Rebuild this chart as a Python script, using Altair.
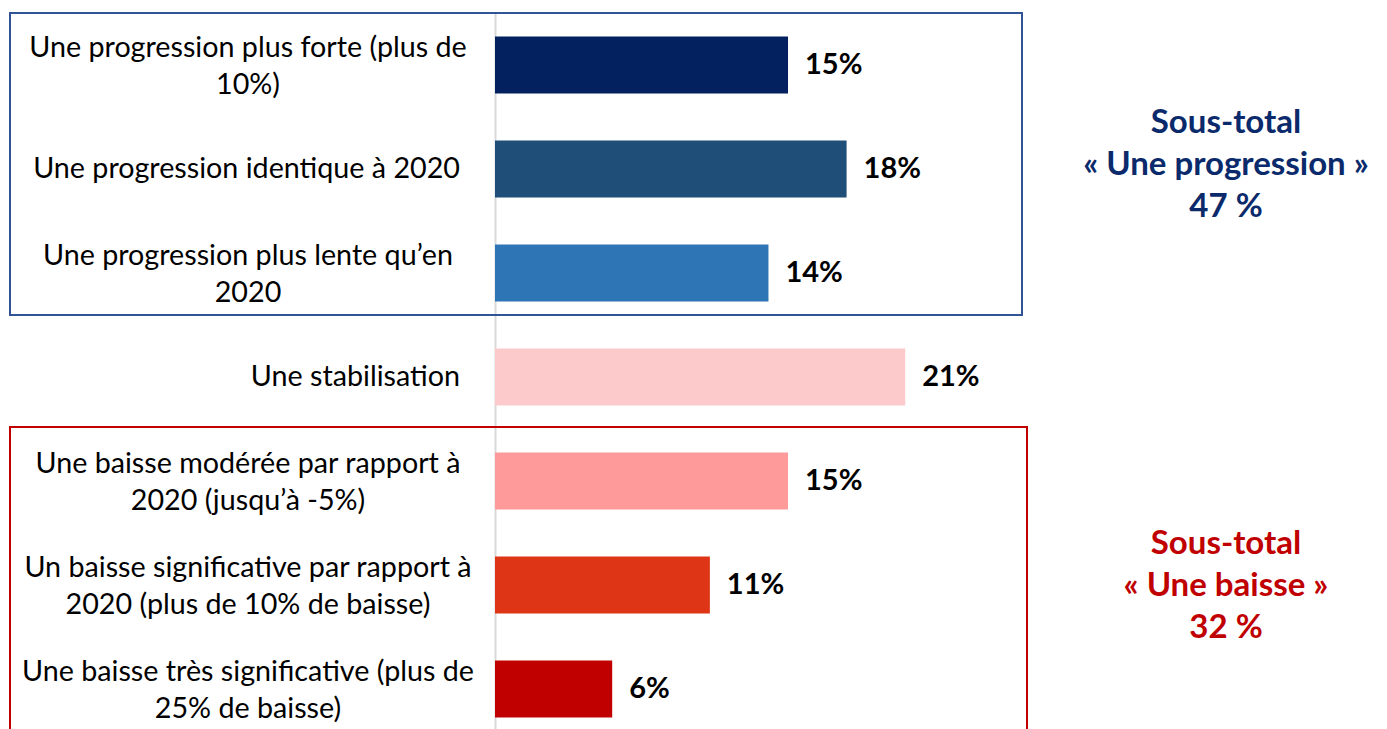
import altair as alt
import pandas as pd

categories = [
    "Une progression plus forte (plus de\n10%)",
    "Une progression identique à 2020",
    "Une progression plus lente qu’en\n2020",
    "Une stabilisation",
    "Une baisse modérée par rapport à\n2020 (jusqu’à -5%)",
    "Un baisse significative par rapport à\n2020 (plus de 10% de baisse)",
    "Une baisse très significative (plus de\n25% de baisse)",
]
values = [15, 18, 14, 21, 15, 11, 6]
colors = ["#03215f", "#1f4e79", "#2e75b6", "#fdcacb", "#fe9a9a", "#dd3516", "#c00000"]

subtotal_anchor = [categories[1], categories[5]]
subtotal_text = ["Sous-total\n« Une progression »\n47 %", "Sous-total\n« Une baisse »\n32 %"]
subtotal_colors = ["#0b2a6b", "#c00000"]

FONT = "Lato"

df = pd.DataFrame({"cat": categories, "value": values, "color": colors})
df["label"] = [f"{v}%" for v in values]
df["multi"] = ["\n" in c for c in categories]
sub = pd.DataFrame({"cat": subtotal_anchor, "text": subtotal_text, "color": subtotal_colors})

y_enc = alt.Y(
    "cat:N",
    sort=categories,
    scale=alt.Scale(paddingInner=0.452, paddingOuter=0.226),
    axis=alt.Axis(labels=False, ticks=False, title=None, grid=False,
                  domainColor="#d9d9d9", domainWidth=2),
)
y_plain = alt.Y("cat:N", sort=categories)
x_scale = alt.Scale(domain=[0, 45])

base = alt.Chart(df)

bars = base.mark_bar().encode(
    x=alt.X("value:Q", scale=x_scale, axis=None),
    y=y_enc,
    color=alt.Color("color:N", scale=None),
)

vals = base.mark_text(align="left", baseline="middle", dx=17, font=FONT,
                      fontSize=29, fontWeight="bold", color="#000000").encode(
    x=alt.X("value:Q", scale=x_scale),
    y=y_plain,
    text="label:N",
)

lab_multi = base.transform_filter("datum.multi").mark_text(
    align="center", baseline="middle", font=FONT, fontSize=28.7, lineBreak="\n",
    lineHeight=37, dy=-17, color="#000000").encode(
    x=alt.value(-247),
    y=y_plain,
    text="cat:N",
)
lab_single = base.transform_filter("!datum.multi").mark_text(
    align="right", baseline="middle", font=FONT, fontSize=28.7, color="#000000").encode(
    x=alt.value(-35),
    y=y_plain,
    text="cat:N",
)

sub_blue = alt.Chart(sub).transform_filter(alt.datum.cat == categories[1]).mark_text(
    align="center", baseline="middle", font=FONT, fontSize=33, fontWeight="bold",
    lineBreak="\n", lineHeight=42, dy=-46).encode(
    x=alt.value(731),
    y=y_plain,
    text="text:N",
    color=alt.Color("color:N", scale=None),
)
sub_red = alt.Chart(sub).transform_filter(alt.datum.cat == categories[5]).mark_text(
    align="center", baseline="middle", font=FONT, fontSize=33, fontWeight="bold",
    lineBreak="\n", lineHeight=42, dy=-41).encode(
    x=alt.value(731),
    y=y_plain,
    text="text:N",
    color=alt.Color("color:N", scale=None),
)

box_blue = alt.Chart(df).mark_rect(fill=None, stroke="#2f5597", strokeWidth=2).encode(
    x=alt.value(-485), x2=alt.value(527), y=alt.value(0), y2=alt.value(302)
).transform_filter(alt.datum.cat == "Une stabilisation")
box_red = alt.Chart(df).mark_rect(fill=None, stroke="#c00000", strokeWidth=2).encode(
    x=alt.value(-485), x2=alt.value(532), y=alt.value(414), y2=alt.value(760)
).transform_filter(alt.datum.cat == "Une stabilisation")

chart = alt.layer(bars, vals, lab_multi, lab_single, sub_blue, sub_red, box_blue, box_red).properties(
    width=879, height=728,
    padding={"left": 487, "top": 5, "right": 0, "bottom": 0},
    autosize=alt.AutoSizeParams(type="none"),
).configure_view(stroke=None)

chart.save("out.html", embed_options={"renderer": "svg", "actions": False})
